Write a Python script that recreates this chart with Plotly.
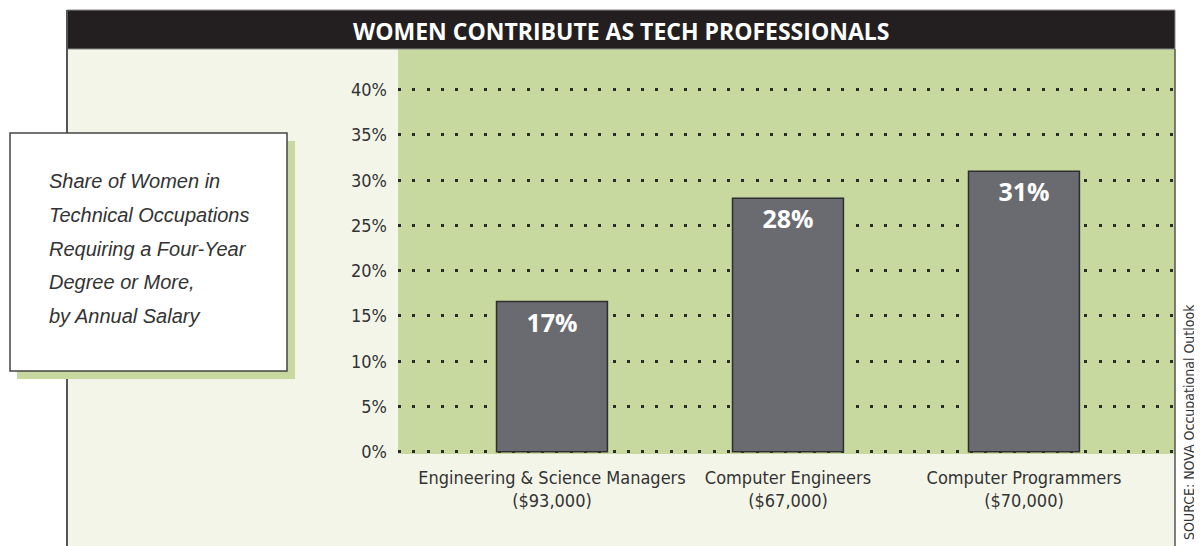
import plotly.graph_objects as go

categories = [
    "Engineering & Science Managers<br>($93,000)",
    "Computer Engineers<br>($67,000)",
    "Computer Programmers<br>($70,000)",
]
share_pct = [16.6, 28.0, 31.0]
bar_labels = ["17%", "28%", "31%"]
y_ticks = [0, 5, 10, 15, 20, 25, 30, 35, 40]
y_tick_text = [f"{v}%" for v in y_ticks]
box_lines = [
    "Share of Women in",
    "Technical Occupations",
    "Requiring a Four-Year",
    "Degree or More,",
    "by Annual Salary",
]
title_text = "WOMEN CONTRIBUTE AS TECH PROFESSIONALS"
source_text = "SOURCE: NOVA Occupational Outlook"

# page layout in pixels of the 1202x546 window; the page body adds an 8px margin
OFF = 8
W, H = 1202 - OFF, 546 - OFF
L, R, T, B = 398, 1175, 49, 454
GREEN = "#c8d99f"
CREAM = "#f3f5e9"
NARROW = "Liberation Sans Narrow, DejaVu Sans Condensed, Arial Narrow, sans-serif"


def px(x):
    return (x - L) / (R - L)


def py(y):
    return (B - y) / (B - T)


fig = go.Figure()
fig.add_trace(go.Bar(
    x=categories, y=share_pct, text=bar_labels,
    width=0.47,
    marker=dict(color="#6a6b70", line=dict(color="#2e2e2e", width=1.5)),
    textposition="inside", insidetextanchor="end",
    textfont=dict(family="Open Sans", size=25, color="white", weight="bold"),
    hoverinfo="skip",
))

shapes = [
    # cream panel, green plot field, title bar
    dict(type="rect", xref="paper", yref="paper", x0=px(67), x1=px(1175), y0=py(560), y1=py(49),
         fillcolor=CREAM, line_width=0, layer="below"),
    dict(type="rect", xref="paper", yref="paper", x0=0, x1=1, y0=0, y1=1,
         fillcolor=GREEN, line_width=0, layer="below"),
    dict(type="rect", xref="paper", yref="paper", x0=px(67), x1=px(1175), y0=py(49), y1=py(10),
         fillcolor="#231f20", line=dict(color="#888", width=1), layer="below"),
    # frame sides
    dict(type="line", xref="paper", yref="paper", x0=px(67), x1=px(67), y0=py(560), y1=py(10),
         line=dict(color="#555", width=2), layer="below"),
    dict(type="line", xref="paper", yref="paper", x0=px(1175), x1=px(1175), y0=py(560), y1=py(49),
         line=dict(color="#555", width=1.5), layer="below"),
    # side note box with green shadow
    dict(type="rect", xref="paper", yref="paper", x0=px(17), x1=px(295), y0=py(379), y1=py(141),
         fillcolor=GREEN, line_width=0, layer="below"),
    dict(type="rect", xref="paper", yref="paper", x0=px(10), x1=px(287), y0=py(371), y1=py(133),
         fillcolor="white", line=dict(color="#444", width=1.5), layer="below"),
]

annotations = [
    dict(text=title_text, xref="paper", yref="paper", x=px(621), y=py(31),
         xanchor="center", yanchor="middle", showarrow=False,
         font=dict(family="Open Sans", size=23, color="white", weight="bold")),
    dict(text=source_text, xref="paper", yref="paper", x=px(1189), y=py(302),
         xanchor="center", yanchor="top", textangle=-90, showarrow=False,
         font=dict(family=NARROW, size=14, color="#333")),
]
for i, line in enumerate(box_lines):
    annotations.append(dict(
        text=line, xref="paper", yref="paper", x=px(47), y=py(181 + i * 33.8),
        xanchor="left", yanchor="middle", showarrow=False,
        font=dict(family="Liberation Sans", size=20, color="#333", style="italic"),
    ))

fig.update_layout(
    width=W, height=H,
    margin=dict(l=L - OFF, r=W - (R - OFF), t=T - OFF, b=H - (B - OFF), pad=0),
    paper_bgcolor="white", plot_bgcolor="rgba(0,0,0,0)",
    showlegend=False, bargap=0.5,
    shapes=shapes, annotations=annotations,
)
fig.update_xaxes(
    range=[-0.6525, 2.64], showgrid=False, zeroline=False, showline=False, ticks="",
    ticklabelstandoff=11,
    tickfont=dict(family=NARROW, size=18, color="#333"),
)
fig.update_yaxes(
    range=[-0.25, 44.5], tickvals=y_ticks, ticktext=y_tick_text,
    showgrid=True, gridcolor="#2b2b2b", gridwidth=3, griddash="3px,11.3px",
    zeroline=False, showline=False, ticks="", ticklabelstandoff=10,
    tickfont=dict(family=NARROW, size=18, color="#333"),
)

fig.write_html("out.html")
